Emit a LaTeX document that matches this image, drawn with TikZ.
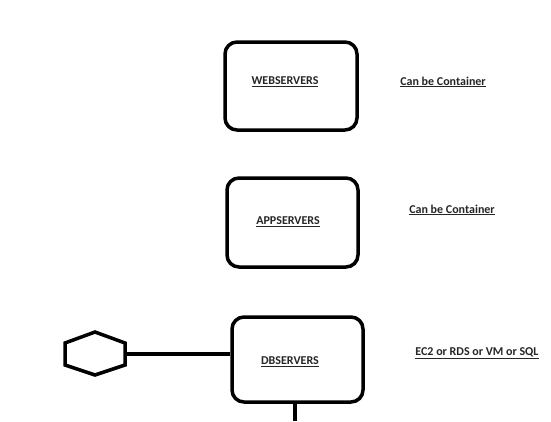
\documentclass[tikz,border=0pt]{standalone}
\usepackage{fontspec}
\setmainfont{Carlito}
\newcommand{\ul}[1]{\underline{#1}}
\begin{document}
\begin{tikzpicture}[x=1pt,y=-1pt,
  srv/.style={draw=black,line width=3.5pt,rounded corners=12pt},
  lbl/.style={font=\fontsize{12}{14}\selectfont\bfseries,inner sep=0pt,text=black!85},
  wire/.style={line width=3.5pt}]
\useasboundingbox[fill=white] (0,0) rectangle (551,421);
\node[srv,minimum width=132pt,minimum height=88pt] (web) at (291,86) {};
\node[lbl] (webt) at (285,82) {\ul{WEBSERVERS}};
\node[lbl] (webc) at (443,82) {\ul{Can be Container}};
\node[srv,minimum width=131pt,minimum height=89pt] (app) at (292.5,222.5) {};
\node[lbl] (appt) at (288,222) {\ul{APPSERVERS}};
\node[lbl] (appc) at (452,210) {\ul{Can be Container}};
\node[srv,minimum width=131pt,minimum height=85pt] (db) at (297.5,359.5) {};
\node[lbl] (dbt) at (290,362) {\ul{DBSERVERS}};
\node[lbl] (dbc) at (477,353) {\ul{EC2 or RDS or VM or SQL}};
\draw[wire,line join=miter] (95,332) -- (125,343) -- (125,365) -- (95,375) -- (65,365) -- (65,343) -- cycle;
\coordinate (hr) at (125,354);
\draw[wire] (hr) -- (db.west |- hr);
\coordinate (bot) at (295,421);
\draw[wire] (db.south -| bot) -- (bot);
\end{tikzpicture}
\end{document}
